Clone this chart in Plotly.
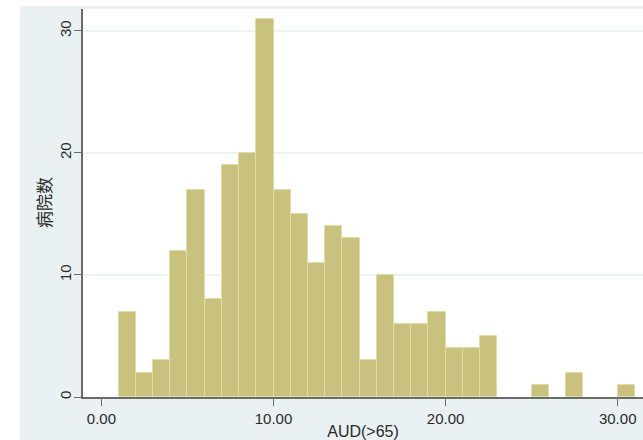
import plotly.graph_objects as go

# Histogram of hospitals by AUD(>65): bins of width 1 starting at 1
bin_start = [1, 2, 3, 4, 5, 6, 7, 8, 9, 10, 11, 12, 13, 14, 15,
             16, 17, 18, 19, 20, 21, 22, 23, 24, 25, 26, 27, 28, 29, 30]
counts = [7, 2, 3, 12, 17, 8, 19, 20, 31, 17, 15, 11, 14, 13, 3,
          10, 6, 6, 7, 4, 4, 5, 0, 0, 1, 0, 2, 0, 0, 1]
bin_width = 1

x_ticks = [0, 10, 20, 30]
x_ticklabels = ["0.00", "10.00", "20.00", "30.00"]
y_ticks = [0, 10, 20, 30]

BG = "#eaf1f2"
FONT = "Liberation Sans, Arial, Noto Sans CJK SC, sans-serif"

# empty bins draw nothing
bx = [b for b, c in zip(bin_start, counts) if c > 0]
by = [c for c in counts if c > 0]

fig = go.Figure(
    go.Bar(
        x=bx,
        y=by,
        width=bin_width,
        offset=0,
        marker=dict(color="#c9c27f", line=dict(color="#e2dda8", width=1)),
    )
)

W, H = 643, 440
ml, mr, mt, mb = 83, 0, 9, 43
pw, ph = W - ml - mr, H - mt - mb

fig.update_layout(
    width=W,
    height=H,
    margin=dict(l=ml, r=mr, t=mt, b=mb),
    paper_bgcolor=BG,
    plot_bgcolor="white",
    showlegend=False,
    bargap=0,
    font=dict(family=FONT, size=15, color="#2a2a2a"),
    xaxis=dict(
        range=[-1.07, 31.47],
        tickmode="array",
        tickvals=x_ticks,
        ticktext=x_ticklabels,
        ticks="outside",
        ticklen=7,
        tickcolor="#6a6a6a",
        showline=True,
        linecolor="#6a6a6a",
        linewidth=1.5,
        showgrid=False,
        zeroline=False,
        tickfont=dict(size=15),
        title=dict(text="AUD(>65)", standoff=0, font=dict(size=16)),
    ),
    yaxis=dict(
        range=[0, 31.8],
        tickmode="array",
        tickvals=y_ticks,
        ticks="outside",
        ticklen=7,
        tickcolor="#6a6a6a",
        tickangle=-90,
        ticklabelstandoff=-3,
        showline=True,
        linecolor="#6a6a6a",
        linewidth=1.5,
        showgrid=True,
        gridcolor="#edf3f3",
        gridwidth=2,
        zeroline=False,
        tickfont=dict(size=15),
    ),
    annotations=[
        dict(text="病院数", xref="paper", yref="paper", x=(45 - ml) / pw, y=0.5,
             xanchor="center", yanchor="middle", textangle=-90, showarrow=False,
             font=dict(size=17)),
    ],
    shapes=[
        # white strips outside the graph region (left and top)
        dict(type="rect", xref="paper", yref="paper", layer="below",
             x0=-ml / pw - 0.01, x1=(20 - ml) / pw, y0=-mb / ph - 0.01, y1=1 + mt / ph + 0.01,
             fillcolor="white", line=dict(width=0)),
        dict(type="rect", xref="paper", yref="paper", layer="below",
             x0=-ml / pw - 0.01, x1=1.01, y0=1 + (mt - 6) / ph, y1=1 + mt / ph + 0.01,
             fillcolor="white", line=dict(width=0)),
    ],
)

fig.write_html("out.html")
